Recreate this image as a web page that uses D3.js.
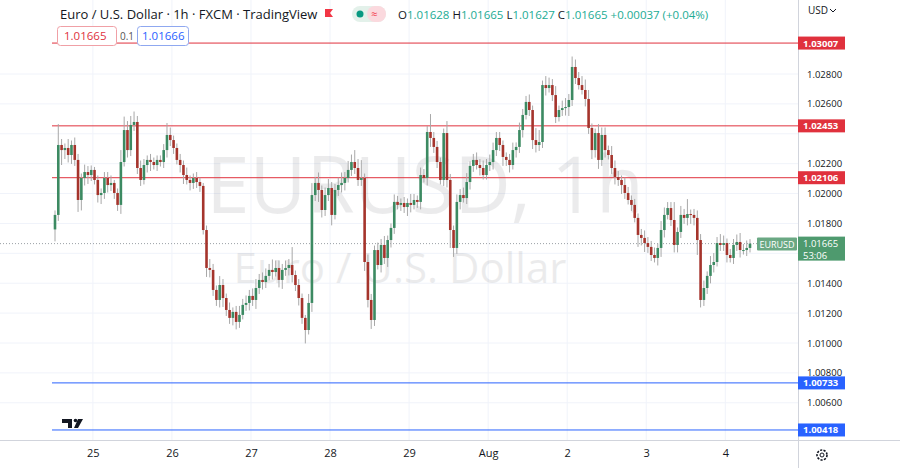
<!DOCTYPE html>
<html><head><meta charset="utf-8">
<script src="https://cdn.jsdelivr.net/npm/d3@7"></script>
<style>body{margin:0;background:#fff;font-family:"Open Sans",Roboto,sans-serif}</style>
</head><body><svg id="c" width="900" height="468"></svg>
<script>
const firstOpen = 1.01760;
const closes = [1.01857,1.02325,1.02291,1.02305,1.02258,1.02325,1.02225,1.01957,1.02104,1.02144,1.02124,1.02158,1.02091,1.0199,1.02004,1.02104,1.02057,1.02071,1.02004,1.01924,1.02211,1.02425,1.02291,1.02459,1.02479,1.02171,1.02091,1.02191,1.02225,1.02211,1.02191,1.02225,1.02211,1.02291,1.02392,1.02358,1.02305,1.02225,1.02191,1.02124,1.02091,1.02071,1.02104,1.02077,1.02051,1.01756,1.01502,1.01489,1.01355,1.01288,1.01388,1.01301,1.01221,1.01168,1.01208,1.01141,1.01188,1.01255,1.01268,1.01315,1.01288,1.01368,1.01422,1.01408,1.01449,1.01489,1.01475,1.01502,1.01422,1.01489,1.01502,1.01522,1.01455,1.01388,1.01301,1.01168,1.01087,1.01268,1.0199,1.02071,1.02024,1.0189,1.0199,1.02037,1.01857,1.02024,1.02057,1.02071,1.02104,1.02158,1.02211,1.02171,1.02091,1.02104,1.01542,1.01288,1.01154,1.01622,1.01522,1.01656,1.01569,1.01689,1.0177,1.01944,1.01924,1.01937,1.0191,1.01937,1.01924,1.01957,1.01944,1.02124,1.02104,1.02412,1.02372,1.02312,1.02211,1.02091,1.02405,1.02091,1.01756,1.01636,1.01944,1.0199,1.0197,1.02077,1.02185,1.02225,1.02191,1.02171,1.02124,1.02191,1.02211,1.02291,1.02372,1.02325,1.02245,1.02225,1.02191,1.02291,1.02312,1.02425,1.02526,1.02613,1.02559,1.02358,1.02325,1.02345,1.02726,1.02706,1.02726,1.02659,1.02512,1.02559,1.02572,1.02579,1.02626,1.02847,1.02773,1.02726,1.02693,1.02633,1.02439,1.02291,1.02405,1.02225,1.02392,1.02291,1.02258,1.02171,1.02111,1.02091,1.02057,1.02004,1.01957,1.01924,1.01837,1.01723,1.01703,1.01669,1.01643,1.01589,1.01569,1.01636,1.01756,1.01857,1.01903,1.01823,1.01656,1.01743,1.01857,1.01837,1.01863,1.01857,1.01837,1.01689,1.01288,1.01368,1.01449,1.01522,1.01542,1.01669,1.01656,1.01669,1.01589,1.01569,1.01656,1.01676,1.01622,1.01622,1.01636,1.01665];
const wickUp = [3,14,4,3,6,3,5,4,3,5,4,3,2,3,3,4,4,5,2,3,8,9,6,6,7,4,5,4,3,4,3,3,3,4,8,5,3,3,4,3,5,3,3,4,3,2,3,6,4,3,6,4,3,5,3,4,6,4,5,4,5,6,4,5,5,4,7,5,5,4,5,4,12,3,4,3,2,6,8,4,7,3,5,6,4,4,5,7,4,6,5,8,6,12,3,5,4,3,5,4,6,3,3,5,4,3,4,3,6,4,3,5,4,4,12,4,4,3,3,8,4,3,5,4,5,6,3,4,5,4,5,4,5,5,4,4,3,3,4,5,3,5,4,4,5,3,8,8,3,6,5,4,6,3,5,6,4,7,5,4,6,7,6,3,3,6,5,5,3,6,5,4,3,5,4,3,4,3,4,5,4,4,5,3,6,5,4,4,12,3,6,4,10,3,4,5,4,5,3,6,6,4,6,5,3,4,4,5,6,4,5,3,2];
const wickDn = [8,4,10,6,5,6,4,8,7,5,6,4,3,5,6,4,5,4,4,4,6,3,5,4,4,4,4,3,5,6,3,4,3,4,5,4,4,3,5,6,3,5,4,4,4,3,6,5,4,4,5,6,4,4,5,5,4,3,4,5,4,6,4,5,4,3,5,3,5,6,4,5,5,4,5,4,9,3,6,4,8,5,4,4,7,3,4,5,5,3,4,4,4,4,6,5,6,4,3,5,4,6,5,4,3,4,4,6,5,3,4,5,3,5,6,4,4,3,4,5,12,6,4,5,3,4,5,4,3,5,3,3,4,5,4,4,6,4,5,3,5,4,5,3,4,6,5,4,4,5,3,4,4,3,4,5,6,4,4,3,3,5,4,6,5,6,4,5,3,4,5,4,6,4,3,4,3,8,5,6,4,4,3,5,6,5,3,4,5,5,4,4,5,6,5,10,5,4,4,5,5,3,4,4,5,3,4,4,5,3,4,3,2];
const dayLabels = ["25","26","27","28","29","Aug","2","3","4"];
const priceTicks = [1.028,1.026,1.024,1.022,1.020,1.018,1.016,1.014,1.012,1.010,1.008,1.006];
const hiddenTicks = [1.024,1.016];
const levels = [{v:1.03007,c:"#e0313d"},{v:1.02453,c:"#e0313d"},{v:1.02106,c:"#e0313d"},{v:1.00733,c:"#2962ff"},{v:1.00418,c:"#2962ff"}];
const lastPrice = 1.01665;

const svg = d3.select("#c");
const W=900,H=468, R=798, B=440;
const x = d3.scaleLinear().domain([0,211]).range([55,750]);
const y = d3.scaleLinear().domain([1.010,1.028]).range([343,74]);

svg.append("g").selectAll("line").data(priceTicks).join("line")
  .attr("x1",0).attr("x2",R).attr("y1",d=>y(d)).attr("y2",d=>y(d)).attr("stroke","#f0f3fa");
svg.append("g").selectAll("line").data(dayLabels).join("line")
  .attr("x1",(d,i)=>x(11.5+24*i)).attr("x2",(d,i)=>x(11.5+24*i)).attr("y1",0).attr("y2",B).attr("stroke","#f0f3fa");

svg.append("text").attr("x",425).attr("y",213).attr("text-anchor","middle").attr("font-size",78)
  .attr("fill","#131722").attr("opacity",0.08).text("EURUSD, 1h");
svg.append("text").attr("x",400).attr("y",283).attr("text-anchor","middle").attr("font-size",42)
  .attr("fill","#131722").attr("opacity",0.08).text("Euro / U.S. Dollar");

svg.append("g").selectAll("line").data(levels).join("line")
  .attr("x1",52).attr("x2",R).attr("y1",d=>y(d.v)).attr("y2",d=>y(d.v)).attr("stroke",d=>d.c).attr("stroke-width",1);
svg.append("line").attr("x1",0).attr("x2",R).attr("y1",y(lastPrice)).attr("y2",y(lastPrice))
  .attr("stroke","#9aa0a6").attr("stroke-dasharray","1,2");

const data = closes.map((c,i)=>{const o=i?closes[i-1]:firstOpen;return {i,o,c,h:Math.max(o,c)+wickUp[i]*0.0001,l:Math.min(o,c)-wickDn[i]*0.0001};});
const g = svg.append("g");
g.selectAll("line").data(data).join("line")
  .attr("x1",d=>x(d.i)).attr("x2",d=>x(d.i)).attr("y1",d=>y(d.h)).attr("y2",d=>y(d.l)).attr("stroke","#a8a8a8");
g.selectAll("rect").data(data).join("rect")
  .attr("x",d=>x(d.i)-1.3).attr("width",2.6)
  .attr("y",d=>y(Math.max(d.o,d.c))).attr("height",d=>Math.max(1,Math.abs(y(d.o)-y(d.c))))
  .attr("fill",d=>d.c>=d.o?"#3c8a62":"#a5342c");

svg.append("line").attr("x1",R+0.5).attr("x2",R+0.5).attr("y1",0).attr("y2",H).attr("stroke","#d1d4dc");
svg.append("line").attr("x1",0).attr("x2",W).attr("y1",B+0.5).attr("y2",B+0.5).attr("stroke","#d1d4dc");

const yAxis = svg.append("g").attr("transform",`translate(${R},0)`).call(d3.axisRight(y).tickValues(priceTicks.filter(t=>!hiddenTicks.includes(t))).tickFormat(d3.format(".5f")).tickSize(0).tickPadding(9));
yAxis.select(".domain").remove();
yAxis.selectAll("text").attr("font-size",9.5).attr("fill","#131722").attr("font-family","Open Sans");
const xAxis = svg.append("g").attr("transform",`translate(0,${B})`).call(d3.axisBottom(x).tickValues(dayLabels.map((d,i)=>11.5+24*i)).tickFormat((d,i)=>dayLabels[i]).tickSize(0).tickPadding(9));
xAxis.select(".domain").remove();
xAxis.selectAll("text").attr("font-size",11).attr("fill","#131722").attr("font-family","Open Sans");

levels.forEach(d=>{
  svg.append("rect").attr("x",R).attr("y",y(d.v)-6.5).attr("width",47).attr("height",13).attr("fill",d.c);
  svg.append("text").attr("x",R+5).attr("y",y(d.v)+3.5).attr("font-size",9.5).attr("fill","#fff").attr("font-weight","bold").text(d3.format(".5f")(d.v));
});
const cy=y(lastPrice);
svg.append("rect").attr("x",R).attr("y",cy-7).attr("width",47).attr("height",24).attr("fill","#4e9a6e");
svg.append("text").attr("x",R+5).attr("y",cy+3.5).attr("font-size",9.5).attr("fill","#fff").text(d3.format(".5f")(lastPrice));
svg.append("text").attr("x",R+5).attr("y",cy+15).attr("font-size",9.5).attr("fill","#fff").text("53:06");
svg.append("rect").attr("x",757).attr("y",cy-6).attr("width",40).attr("height",13).attr("fill","#6aa883").attr("rx",1);
svg.append("text").attr("x",777).attr("y",cy+4).attr("text-anchor","middle").attr("font-size",9).attr("fill","#fff").text("EURUSD");

svg.append("text").attr("x",808).attr("y",14).attr("font-size",10).attr("fill","#131722").text("USD");
svg.append("path").attr("d","M830,9 l3,3 l3,-3").attr("fill","none").attr("stroke","#131722");

svg.append("text").attr("x",60).attr("y",19).attr("font-size",13).attr("fill","#131722").text("Euro / U.S. Dollar · 1h · FXCM · TradingView");
svg.append("path").attr("d","M325,9 h8 l-3,4 l3,4 h-8z").attr("fill","#f23645");
svg.append("rect").attr("x",352).attr("y",6).attr("width",34).attr("height",16).attr("rx",8).attr("fill","#e3f1ea");
svg.append("rect").attr("x",367).attr("y",6).attr("width",19).attr("height",16).attr("rx",8).attr("fill","#fbd9de");
svg.append("circle").attr("cx",360).attr("cy",14).attr("r",3.5).attr("fill","#089981");
svg.append("text").attr("x",371).attr("y",18).attr("font-size",11).attr("fill","#f23645").text("≈");
const ohlc = svg.append("text").attr("x",398).attr("y",19).attr("font-size",11.5).attr("fill","#131722");
[["O","1.01628"],["H","1.01665"],["L","1.01627"],["C","1.01665"]].forEach(([k,v])=>{
  ohlc.append("tspan").text(k); ohlc.append("tspan").attr("fill","#22ab94").text(v+" ");
});
ohlc.append("tspan").attr("fill","#22ab94").text("+0.00037 (+0.04%)");
svg.append("rect").attr("x",57.5).attr("y",26.5).attr("width",59).attr("height",19).attr("rx",3).attr("fill","#fff").attr("stroke","#f0a0a6");
svg.append("text").attr("x",64).attr("y",40).attr("font-size",11.5).attr("fill","#e0313d").text("1.01665");
svg.append("text").attr("x",120).attr("y",40).attr("font-size",10).attr("fill","#555").text("0.1");
svg.append("rect").attr("x",137.5).attr("y",26.5).attr("width",51).attr("height",19).attr("rx",3).attr("fill","#fff").attr("stroke","#8fa8f0");
svg.append("text").attr("x",142).attr("y",40).attr("font-size",11.5).attr("fill","#2962ff").text("1.01666");

svg.append("path").attr("d","M62,419 h10 v9 h-4 v-5 h-6z M78,419 h5 l-5,9 h-4z").attr("fill","#131722");
svg.append("circle").attr("cx",75.5).attr("cy",420.5).attr("r",1.8).attr("fill","#131722");
svg.append("circle").attr("cx",822).attr("cy",455).attr("r",5).attr("fill","none").attr("stroke","#131722").attr("stroke-width",1.6).attr("stroke-dasharray","2.2,1.3");
svg.append("circle").attr("cx",822).attr("cy",455).attr("r",2).attr("fill","none").attr("stroke","#131722");
</script></body></html>
